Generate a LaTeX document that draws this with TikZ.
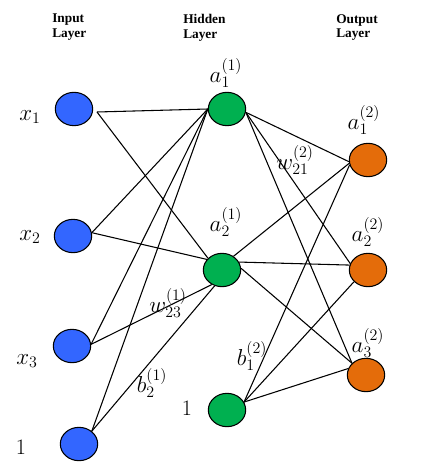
\documentclass[tikz,border=0pt]{standalone}
\usepackage{fontspec}
\newfontfamily\headfont{Liberation Serif}
\usetikzlibrary{shapes.geometric}
\definecolor{inblue}{HTML}{3366FF}
\definecolor{hidgreen}{HTML}{00B050}
\definecolor{outorange}{HTML}{E46C0A}
\begin{document}
\begin{tikzpicture}[x=0.75pt,y=-0.75pt,
 neuron/.style={ellipse,draw=black,line width=0.8pt,inner sep=0pt,minimum width=28pt,minimum height=25pt},
 inn/.style={neuron,fill=inblue},
 hid/.style={neuron,fill=hidgreen},
 outn/.style={neuron,fill=outorange},
 head/.style={font=\headfont\bfseries\fontsize{10}{11}\selectfont,align=left,anchor=north west,inner sep=0pt},
 lbl/.style={font=\fontsize{16.5}{20}\selectfont,inner sep=0pt},
 conn/.style={line width=0.8pt,draw=black}
]
\useasboundingbox (0,0) rectangle (421,474);
% headers
\node[head] (hin) at (52,14) {Input\\Layer};
\node[head] (hhid) at (183,14) {Hidden\\Layer};
\node[head] (hout) at (336,14) {Output\\Layer};
% neurons
\node[inn] (x1) at (74,109) {};
\node[inn] (x2) at (73,236) {};
\node[inn] (x3) at (72,346) {};
\node[inn] (b1) at (79,444) {};
\node[hid] (h1) at (227,109) {};
\node[hid] (h2) at (222,270) {};
\node[hid] (hb) at (227,410) {};
\node[outn] (o1) at (368,160) {};
\node[outn] (o2) at (368,270) {};
\node[outn] (o3) at (366,375) {};
\coordinate (x1s) at (97,112);
% input -> hidden
\draw[conn] (x1s) -- (h1.west);
\draw[conn] (x1s) -- (h2.140);
\draw[conn] (x2.10) -- (h1.west);
\draw[conn] (x2.10) -- (h2.145);
\draw[conn] (x3.5) -- (h1.west);
\draw[conn] (x3.5) -- (h2.235);
\draw[conn] (b1.45) -- (h1.west);
\draw[conn] (b1.45) -- (h2.245);
% hidden -> output
\draw[conn] (h1.-10) -- (o1.185);
\draw[conn] (h1.-10) -- (o2.160);
\draw[conn] (h1.-10) -- (o3.140);
\draw[conn] (h2.50) -- (o1.190);
\draw[conn] (h2.25) -- (o2.165);
\draw[conn] (h2.5) -- (o3.140);
\draw[conn] (hb.25) -- (o1.195);
\draw[conn] (hb.25) -- (o2.220);
\draw[conn] (hb.25) -- (o3.160);
% labels
\node[lbl] (lx1) at (30,117) {$x_{1}$};
\node[lbl] (lx2) at (30,237) {$x_{2}$};
\node[lbl] (lx3) at (27,361) {$x_{3}$};
\node[lbl] (l1a) at (21,447) {1};
\node[lbl] (l1b) at (187,408) {1};
\node[lbl] (la11) at (226,73) {$a_1^{(1)}$};
\node[lbl] (la21) at (226,222) {$a_2^{(1)}$};
\node[lbl] (la12) at (364,120) {$a_1^{(2)}$};
\node[lbl] (la22) at (368,232) {$a_2^{(2)}$};
\node[lbl] (la32) at (368,343) {$a_3^{(2)}$};
\node[lbl] (lw21) at (295,160) {$w_{21}^{(2)}$};
\node[lbl] (lw23) at (168,303) {$w_{23}^{(1)}$};
\node[lbl] (lb21) at (152,383) {$b_2^{(1)}$};
\node[lbl] (lb12) at (252,356) {$b_1^{(2)}$};
\end{tikzpicture}
\end{document}
